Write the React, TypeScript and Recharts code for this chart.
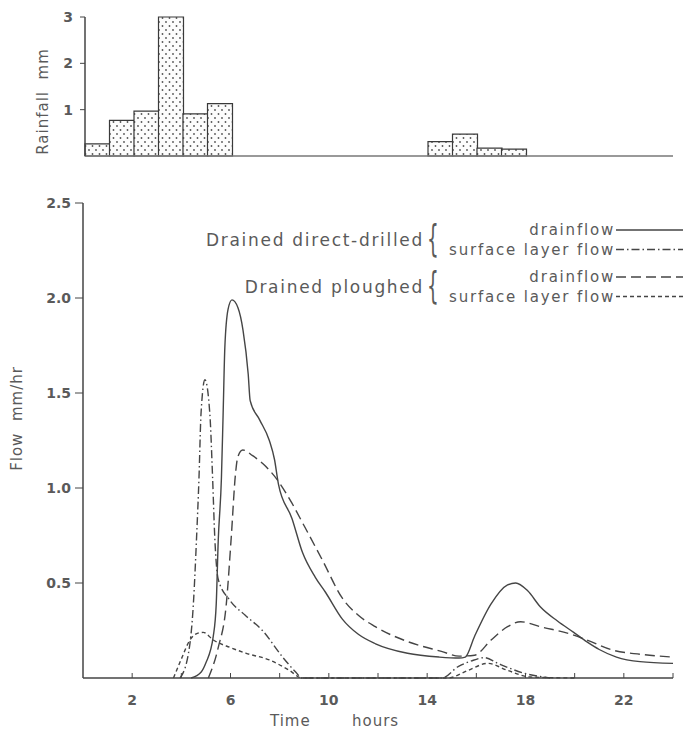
import {
  Bar,
  BarChart,
  Label,
  Legend,
  Line,
  LineChart,
  XAxis,
  YAxis,
} from "recharts";

const INK = "#454545";
const TEXT = "#5a5a5a";
const FONT = "'DejaVu Sans', Verdana, sans-serif";

// rainfall (mm) in each hour that had any, by the hour the bar starts at
const rainHours = [0, 1, 2, 3, 4, 5, 14, 15, 16, 17];
const rainMm = [0.26, 0.77, 0.97, 3.0, 0.91, 1.13, 0.31, 0.47, 0.17, 0.15];
const rainTicks = [1, 2, 3];

// hydrographs: time (hours) and flow (mm/hr)
const ddDrainT = [4.4, 4.8, 5.0, 5.3, 5.42, 5.5, 5.63, 5.7, 5.77, 5.9, 6.06, 6.3, 6.51, 6.72, 6.8, 7.18, 7.58, 7.79, 7.95, 8.5, 8.93, 9.45, 9.87, 10.55, 11.2, 11.9, 13.2, 14.5, 15.3, 15.55, 15.93, 16.6, 17.27, 17.6, 18.08, 18.6, 19.3, 19.96, 20.5, 21.0, 21.7, 22.66, 24];
const ddDrainQ = [0, 0.03, 0.08, 0.22, 0.39, 0.72, 1.05, 1.39, 1.74, 1.94, 1.99, 1.95, 1.83, 1.6, 1.46, 1.36, 1.25, 1.15, 1.02, 0.84, 0.66, 0.53, 0.45, 0.31, 0.23, 0.18, 0.13, 0.11, 0.105, 0.11, 0.22, 0.39, 0.49, 0.5, 0.46, 0.375, 0.3, 0.24, 0.19, 0.15, 0.11, 0.086, 0.077];

const ddSurfT = [3.95, 4.29, 4.49, 4.62, 4.72, 4.8, 4.96, 5.16, 5.27, 5.36, 5.5, 5.97, 6.6, 7.3, 8.12, 8.66, 8.9, 14.6, 15.26, 15.8, 16.33, 16.87, 17.95, 19.0];
const ddSurfQ = [0, 0.13, 0.39, 0.74, 1.06, 1.39, 1.57, 1.39, 1.06, 0.74, 0.52, 0.41, 0.33, 0.25, 0.11, 0.03, 0, 0, 0.06, 0.09, 0.107, 0.077, 0.025, 0];

const plDrainT = [5.1, 5.5, 5.83, 6.03, 6.2, 6.3, 6.5, 6.9, 7.3, 7.92, 8.5, 9.0, 9.74, 10.55, 11.2, 11.89, 13.24, 14.58, 15.3, 15.93, 16.6, 17.27, 17.8, 18.6, 19.96, 20.5, 21.6, 22.66, 24];
const plDrainQ = [0, 0.16, 0.39, 0.74, 1.07, 1.165, 1.2, 1.17, 1.13, 1.04, 0.92, 0.8, 0.62, 0.42, 0.33, 0.27, 0.19, 0.14, 0.115, 0.12, 0.2, 0.27, 0.296, 0.27, 0.226, 0.2, 0.145, 0.125, 0.11];

const plSurfT = [3.68, 4.0, 4.35, 4.65, 4.89, 5.3, 6.0, 6.64, 7.58, 8.4, 8.9, 14.85, 15.66, 16.47, 17.27, 18.2, 20];
const plSurfQ = [0, 0.1, 0.2, 0.235, 0.24, 0.2, 0.16, 0.13, 0.095, 0.04, 0, 0, 0.04, 0.077, 0.04, 0.005, 0];

const timeTicks = [2, 4, 6, 8, 10, 12, 14, 16, 18, 20, 22, 24];
const flowTicks = [0.5, 1, 1.5, 2, 2.5];

type Series = { id: string; group: string; label: string; dash?: string; t: number[]; q: number[] };

const series: Series[] = [
  { id: "ddDrain", group: "Drained direct-drilled", label: "drainflow", t: ddDrainT, q: ddDrainQ },
  { id: "ddSurf", group: "Drained direct-drilled", label: "surface layer flow", dash: "8 3 1.5 3", t: ddSurfT, q: ddSurfQ },
  { id: "plDrain", group: "Drained ploughed", label: "drainflow", dash: "10 5", t: plDrainT, q: plDrainQ },
  { id: "plSurf", group: "Drained ploughed", label: "surface layer flow", dash: "4 3", t: plSurfT, q: plSurfQ },
];

const rainData = Array.from({ length: 24 }, (_, hour) => {
  const i = rainHours.indexOf(hour);
  return { hour, mm: i >= 0 ? rainMm[i] : null };
});

const toPoints = (ts: number[], qs: number[]) => ts.map((t, i) => ({ t, q: qs[i] }));

type Box = { x: number; y: number; width: number; height: number };

function SideTitle({ viewBox, text, dx, dy }: { viewBox?: Box; text: string; dx: number; dy: number }) {
  if (!viewBox) return null;
  const x = viewBox.x + dx;
  const y = viewBox.y + viewBox.height / 2 + dy;
  return (
    <text
      x={x}
      y={y}
      transform={`rotate(-90 ${x} ${y})`}
      textAnchor="middle"
      dominantBaseline="central"
      fill={TEXT}
      fontSize={15}
      letterSpacing={1}
      style={{ whiteSpace: "pre" }}
    >
      {text}
    </text>
  );
}

function TimeTitle({ viewBox }: { viewBox?: Box }) {
  if (!viewBox) return null;
  const y = viewBox.y + 48;
  return (
    <text y={y} fill={TEXT} fontSize={15} letterSpacing={1}>
      <tspan x={viewBox.x + 187}>Time</tspan>
      <tspan x={viewBox.x + 269}>hours</tspan>
    </text>
  );
}

// the key in the figure: braces grouping the two treatments
function FlowKey() {
  const groups = ["Drained direct-drilled", "Drained ploughed"];
  const groupTop = [15, 62];
  const rowGap = 19.5;
  return (
    <svg width={493} height={100} style={{ display: "block", overflow: "visible" }}>
      {groups.map((g, gi) => {
        const rows = series.filter((s) => s.group === g);
        const mid = groupTop[gi] + rowGap / 2;
        return (
          <g key={g}>
            <text x={234} y={mid + 6} textAnchor="end" fill={TEXT} fontSize={17} letterSpacing={1.7}>
              {g}
            </text>
            <text
              x={0}
              y={0}
              transform={`translate(237 ${mid + 11}) scale(0.5 1)`}
              fill={TEXT}
              fontSize={37}
            >
              {"{"}
            </text>
            {rows.map((s, ri) => {
              const y = groupTop[gi] + ri * rowGap;
              return (
                <g key={s.id}>
                  <text x={425} y={y + 5} textAnchor="end" fill={TEXT} fontSize={15} letterSpacing={1.8}>
                    {s.label}
                  </text>
                  <line x1={426} x2={493} y1={y} y2={y} stroke={INK} strokeWidth={1.3} strokeDasharray={s.dash} />
                </g>
              );
            })}
          </g>
        );
      })}
    </svg>
  );
}

export default function App() {
  return (
    <div
      style={{
        position: "absolute",
        left: 0,
        top: 0,
        width: 683,
        height: 733,
        background: "#fff",
        fontFamily: FONT,
      }}
    >
      <BarChart
        width={683}
        height={175}
        data={rainData}
        barCategoryGap={0}
        margin={{ top: 17, right: 10, left: 0, bottom: 17 }}
      >
        <defs>
          <pattern id="rainDots" width={7} height={8} patternUnits="userSpaceOnUse">
            <rect width={7} height={8} fill="#fcfcfc" />
            <circle cx={1.5} cy={2} r={0.9} fill="#555" />
            <circle cx={5} cy={6} r={0.9} fill="#555" />
          </pattern>
        </defs>
        <XAxis
          dataKey="hour"
          tick={false}
          tickLine={false}
          height={2}
          axisLine={{ stroke: "#777", strokeWidth: 1.5 }}
        />
        <YAxis
          width={85}
          domain={[0, 3]}
          ticks={rainTicks}
          tickSize={5}
          tickMargin={7}
          tick={{ fill: TEXT, fontSize: 14, fontWeight: "bold" }}
          tickLine={{ stroke: INK }}
          axisLine={{ stroke: INK, strokeWidth: 1.5 }}
        >
          <Label content={(p: any) => <SideTitle viewBox={p.viewBox} text="Rainfall  mm" dx={43} dy={15} />} />
        </YAxis>
        <Bar dataKey="mm" fill="url(#rainDots)" stroke="#3a3a3a" strokeWidth={1.2} isAnimationActive={false} />
      </BarChart>

      <LineChart width={683} height={558} margin={{ top: 28, right: 10, left: 0, bottom: 25 }}>
        <XAxis
          type="number"
          dataKey="t"
          domain={[0, 24]}
          ticks={timeTicks}
          tickFormatter={(v: number) => (v % 4 === 2 ? String(v) : "")}
          tickSize={-5}
          tickMargin={22}
          height={30}
          tick={{ fill: TEXT, fontSize: 14, fontWeight: "bold" }}
          tickLine={{ stroke: INK }}
          axisLine={{ stroke: INK, strokeWidth: 1.5 }}
        >
          <Label content={(p: any) => <TimeTitle viewBox={p.viewBox} />} />
        </XAxis>
        <YAxis
          type="number"
          width={83}
          domain={[0, 2.5]}
          ticks={flowTicks}
          tickFormatter={(v: number) => v.toFixed(1)}
          tickSize={8}
          tickMargin={4}
          tick={{ fill: TEXT, fontSize: 14, fontWeight: "bold" }}
          tickLine={{ stroke: INK }}
          axisLine={{ stroke: INK, strokeWidth: 1.5 }}
        >
          <Label content={(p: any) => <SideTitle viewBox={p.viewBox} text="Flow  mm/hr" dx={17} dy={-22} />} />
        </YAxis>
        <Legend
          layout="horizontal"
          verticalAlign="middle"
          align="center"
          wrapperStyle={{ left: 190, top: 40, width: 493, height: 100 }}
          content={() => <FlowKey />}
        />
        {series.map((s) => (
          <Line
            key={s.id}
            name={`${s.group} ${s.label}`}
            data={toPoints(s.t, s.q)}
            dataKey="q"
            type="monotone"
            stroke={INK}
            strokeWidth={1.4}
            strokeDasharray={s.dash}
            dot={false}
            activeDot={false}
            isAnimationActive={false}
          />
        ))}
      </LineChart>
    </div>
  );
}
